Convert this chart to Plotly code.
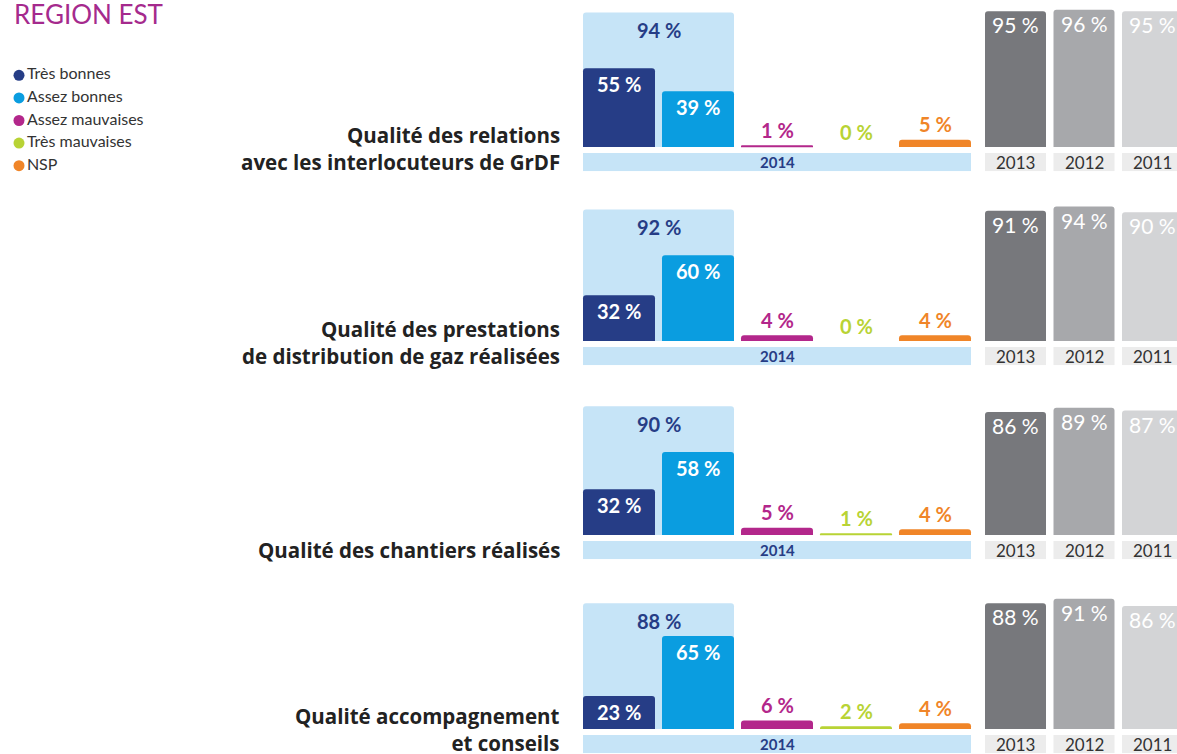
import plotly.graph_objects as go

# ---------------- data ----------------
title_text = "REGION EST"
categories = ["Très bonnes", "Assez bonnes", "Assez mauvaises", "Très mauvaises", "NSP"]
questions = [
    ["Qualité des relations", "avec les interlocuteurs de GrDF"],
    ["Qualité des prestations", "de distribution de gaz réalisées"],
    ["Qualité des chantiers réalisés"],
    ["Qualité accompagnement", "et conseils"],
]
tres_bonnes = [55, 32, 32, 23]
assez_bonnes = [39, 60, 58, 65]
assez_mauvaises = [1, 4, 5, 6]
tres_mauvaises = [0, 0, 1, 2]
nsp = [5, 4, 4, 4]
satisfaits_2014 = [94, 92, 90, 88]
year_current = "2014"
past_years = ["2013", "2012", "2011"]
satisfaits_2013 = [95, 91, 86, 88]
satisfaits_2012 = [96, 94, 89, 91]
satisfaits_2011 = [95, 90, 87, 86]

# ---------------- style ----------------
FONT = "Lato"
TITLE_FONT = "Open Sans"
TITLE_SIZE = 20.5
DARK_BLUE = "#263d86"
LIGHT_BLUE = "#0a9de0"
BG_BLUE = "#c6e4f7"
MAGENTA = "#b3278b"
GREEN = "#b8d335"
ORANGE = "#f08528"
cat_colors = [DARK_BLUE, LIGHT_BLUE, MAGENTA, GREEN, ORANGE]
year_colors = ["#77787c", "#a7a8ab", "#d3d4d6"]
BAND_GRAY = "#ececec"
TXT = "#222222"

W, H = 1177, 754
PX = 1.43                 # pixels per percentage point
YMIN, YMAX = -17, 97
baselines = [147, 341, 535, 729]
BAND_TOP, BAND_BOT = -4.2, -17
BAND_MID = (BAND_TOP + BAND_BOT) / 2

# x geometry (pixels)
CAT_STEP, CAT_W, CAT_C0 = 79.0, 72.0, 619.0
YR_STEP, YR_W, YR_C0 = 68.5, 61.0, 1015.5
cat_left = CAT_C0 - CAT_STEP / 2
cat_right = cat_left + 5 * CAT_STEP
yr_left = YR_C0 - YR_STEP / 2
yr_range_end = -0.5 + (W - yr_left) / YR_STEP

fig = go.Figure()
layout = dict(
    width=W, height=H, margin=dict(l=0, r=0, t=0, b=0),
    paper_bgcolor="white", plot_bgcolor="rgba(0,0,0,0)",
    showlegend=False, barmode="overlay", barcornerradius=3,
    font=dict(family=FONT, color=TXT),
)
shapes = []
annotations = []


def label(text, xref, yref, x, y, shift, color, size=20, weight="bold"):
    annotations.append(dict(text=text, xref=xref, yref=yref, x=x, y=y, yshift=shift,
                            xanchor="center", yanchor="middle", showarrow=False,
                            font=dict(family=FONT, size=size, color=color, weight=weight)))


rows = list(zip(tres_bonnes, assez_bonnes, assez_mauvaises, tres_mauvaises, nsp))
past = list(zip(satisfaits_2013, satisfaits_2012, satisfaits_2011))

for r in range(4):
    xa, xb, yy = f"x{2*r+1}", f"x{2*r+2}", f"y{r+1}"
    xa_key, xb_key, y_key = f"xaxis{2*r+1 if r else ''}", f"xaxis{2*r+2}", f"yaxis{r+1 if r else ''}"
    b = baselines[r]
    dom = [1 - (b - YMIN * PX) / H, 1 - (b - YMAX * PX) / H]
    dom = [max(0, dom[0]), min(1, dom[1])]
    layout[y_key] = dict(domain=dom, range=[YMIN, YMAX], visible=False, fixedrange=True, anchor=xa)
    layout[xa_key] = dict(domain=[cat_left / W, cat_right / W], range=[-0.5, 4.5],
                          visible=False, fixedrange=True, anchor=yy)
    layout[xb_key] = dict(domain=[yr_left / W, 1], range=[-0.5, yr_range_end],
                          visible=False, fixedrange=True, anchor=yy)

    vals = list(rows[r])
    xs = list(range(5))
    # background "satisfied" total bar spanning the two first categories
    tot_w = 1 + CAT_W / CAT_STEP
    fig.add_trace(go.Bar(x=[0.5], y=[satisfaits_2014[r]], width=[tot_w], xaxis=xa, yaxis=yy,
                         marker=dict(color=BG_BLUE, line=dict(width=0)), hoverinfo="skip"))
    fig.add_trace(go.Bar(x=xs, y=vals, width=[CAT_W / CAT_STEP] * 5, xaxis=xa, yaxis=yy,
                         marker=dict(color=cat_colors, line=dict(width=0)),
                         hovertext=categories, hoverinfo="text+y"))
    # value labels
    label(f"{satisfaits_2014[r]} %", xa, yy, 0.5, satisfaits_2014[r], -17.5, DARK_BLUE)
    for i, v in enumerate(vals):
        if i < 2:
            label(f"{v} %", xa, yy, i, v, -15.5, "white")
        else:
            label(f"{v} %", xa, yy, i, v, 15.5, cat_colors[i])
    # past years
    pv = list(past[r])
    fig.add_trace(go.Bar(x=[0, 1, 2], y=pv, width=[YR_W / YR_STEP] * 3, xaxis=xb, yaxis=yy,
                         marker=dict(color=year_colors, line=dict(width=0)),
                         hovertext=past_years, hoverinfo="text+y"))
    for i, v in enumerate(pv):
        label(f"{v} %", xb, yy, i, v, -13.5, "white", size=21, weight="normal")
    # year bands
    half = CAT_W / CAT_STEP / 2
    shapes.append(dict(type="rect", xref=xa, yref=yy, x0=-half, x1=4 + half,
                       y0=BAND_BOT, y1=BAND_TOP, fillcolor=BG_BLUE, line=dict(width=0), layer="below"))
    label(year_current, xa, yy, 2, BAND_MID, 0, DARK_BLUE, size=15)
    yh = YR_W / YR_STEP / 2
    for i, yr in enumerate(past_years):
        shapes.append(dict(type="rect", xref=xb, yref=yy, x0=i - yh, x1=i + yh,
                           y0=BAND_BOT, y1=BAND_TOP, fillcolor=BAND_GRAY, line=dict(width=0), layer="below"))
        label(yr, xb, yy, i, BAND_MID, 0, "#333333", size=17, weight="normal")
    # question title (right aligned, last line level with the year band)
    lines = questions[r]
    n = len(lines)
    line_h = 1.3 * TITLE_SIZE
    annotations.append(dict(text="<br>".join(lines), xref="paper", yref=yy, x=562 / W, y=BAND_MID,
                            yshift=(n - 1) * line_h / 2 + (1 if r == 3 else 0),
                            xanchor="right", yanchor="middle", align="right", showarrow=False,
                            font=dict(family=TITLE_FONT, size=TITLE_SIZE, color=TXT, weight="bold")))

# legend built as a small scatter on its own axes
layout["xaxis9"] = dict(domain=[0, 200 / W], range=[-19, 181], visible=False, fixedrange=True, anchor="y5")
layout["yaxis5"] = dict(domain=[1 - 177 / H, 1 - 64 / H], range=[4.5, -0.5], visible=False,
                        fixedrange=True, anchor="x9")
fig.add_trace(go.Scatter(x=[0] * 5, y=list(range(5)), xaxis="x9", yaxis="y5", mode="markers+text",
                         text=categories, textposition="middle right",
                         marker=dict(size=11, color=cat_colors),
                         textfont=dict(family=FONT, size=16, color="#333333"), hoverinfo="skip"))

annotations.append(dict(text=title_text, xref="paper", yref="paper", x=12 / W, y=1, yshift=4,
                        xanchor="left", yanchor="top", showarrow=False,
                        font=dict(family=FONT, size=26, color="#a52a8d")))

layout["shapes"] = shapes
layout["annotations"] = annotations
fig.update_layout(**layout)
fig.write_html("out.html")
